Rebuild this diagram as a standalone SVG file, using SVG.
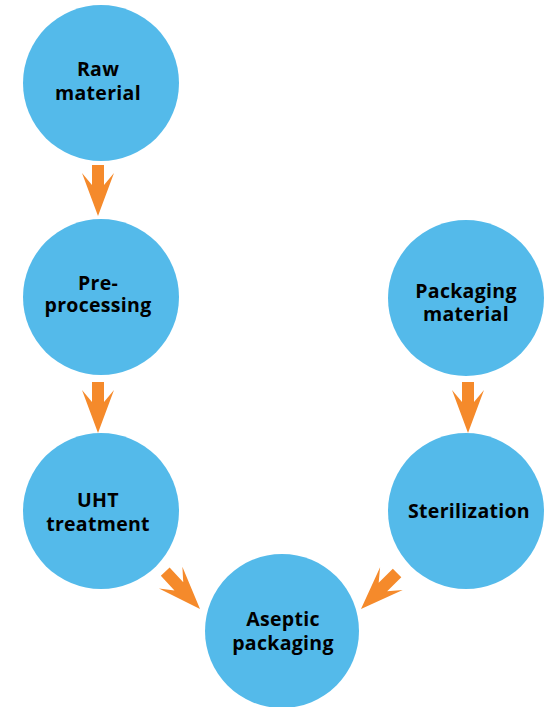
<svg xmlns="http://www.w3.org/2000/svg" width="547" height="707" viewBox="0 0 547 707">
<defs>
<style>
.node{fill:#54BAEA;}
.lbl{font-family:"Open Sans","Liberation Sans",sans-serif;font-weight:bold;font-size:19.5px;letter-spacing:0.3px;fill:#000;text-anchor:middle;}
.arr{fill:#F58A2B;}
</style>
<path id="arrow" d="M-6,-51 L6,-51 L6,-31 L16,-43 L0,0 L-16,-43 L-6,-31 Z"/>
</defs>
<rect width="547" height="707" fill="#fff"/>
<g id="connectors" class="arr">
<use href="#arrow" transform="translate(98,216)"/>
<use href="#arrow" transform="translate(98,433)"/>
<use href="#arrow" transform="translate(468,433)"/>
<use href="#arrow" transform="translate(200,609) rotate(-43)"/>
<use href="#arrow" transform="translate(361,609) rotate(45)"/>
</g>
<g id="raw-material">
<circle class="node" cx="101" cy="83" r="78"/>
<text class="lbl" x="98" y="76">Raw</text>
<text class="lbl" x="98" y="100">material</text>
</g>
<g id="pre-processing">
<circle class="node" cx="101" cy="297" r="78"/>
<text class="lbl" x="98" y="290">Pre-</text>
<text class="lbl" x="98" y="312">processing</text>
</g>
<g id="uht-treatment">
<circle class="node" cx="101" cy="511" r="78"/>
<text class="lbl" x="98" y="507">UHT</text>
<text class="lbl" x="98" y="531">treatment</text>
</g>
<g id="packaging-material">
<circle class="node" cx="466" cy="298" r="78"/>
<text class="lbl" x="466" y="298">Packaging</text>
<text class="lbl" x="466" y="321">material</text>
</g>
<g id="sterilization">
<circle class="node" cx="466" cy="511" r="78"/>
<text class="lbl" x="469" y="518">Sterilization</text>
</g>
<g id="aseptic-packaging">
<circle class="node" cx="282" cy="631" r="77"/>
<text class="lbl" x="283" y="626">Aseptic</text>
<text class="lbl" x="283" y="650">packaging</text>
</g>
</svg>
